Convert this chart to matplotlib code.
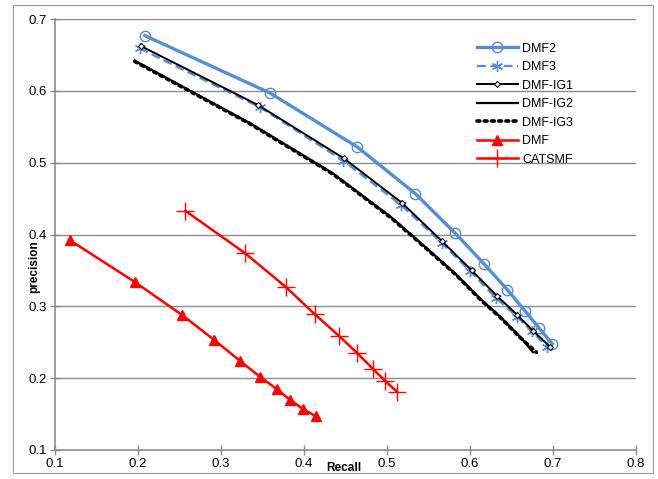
import matplotlib
matplotlib.use("Agg")
import matplotlib.pyplot as plt
from matplotlib.patches import Rectangle

plt.rcParams['font.family'] = ['Liberation Sans Narrow', 'Liberation Sans', 'DejaVu Sans']

# data
dmf2_x = [0.208, 0.359, 0.464, 0.534, 0.582, 0.617, 0.645, 0.666, 0.683, 0.699]
dmf2_y = [0.677, 0.597, 0.522, 0.457, 0.402, 0.359, 0.323, 0.294, 0.270, 0.248]

dmf3_x = [0.202, 0.347, 0.447, 0.517, 0.566, 0.600, 0.631, 0.657, 0.675, 0.693]
dmf3_y = [0.659, 0.577, 0.503, 0.441, 0.388, 0.349, 0.312, 0.285, 0.265, 0.243]

ig1_x = [0.204, 0.345, 0.448, 0.518, 0.566, 0.602, 0.632, 0.657, 0.676, 0.696]
ig1_y = [0.662, 0.580, 0.506, 0.444, 0.391, 0.350, 0.315, 0.288, 0.266, 0.244]

ig2_x = [0.196, 0.335, 0.435, 0.504, 0.534, 0.582, 0.612, 0.636, 0.660, 0.676]
ig2_y = [0.642, 0.555, 0.485, 0.425, 0.395, 0.346, 0.311, 0.286, 0.258, 0.236]

ig3_x = [0.196, 0.335, 0.435, 0.504, 0.534, 0.582, 0.612, 0.636, 0.660, 0.680]
ig3_y = [0.641, 0.554, 0.484, 0.424, 0.394, 0.345, 0.310, 0.285, 0.257, 0.236]

dmf_x = [0.118, 0.196, 0.253, 0.292, 0.323, 0.347, 0.367, 0.383, 0.399, 0.414]
dmf_y = [0.392, 0.334, 0.288, 0.253, 0.224, 0.202, 0.185, 0.170, 0.157, 0.147]

cat_x = [0.257, 0.329, 0.378, 0.413, 0.442, 0.464, 0.483, 0.498, 0.512]
cat_y = [0.433, 0.374, 0.327, 0.289, 0.259, 0.235, 0.213, 0.196, 0.181]

blue = '#558ED5'

fig = plt.figure(figsize=(6.58, 4.79), dpi=100)
fig.patches.append(Rectangle((13 / 658, 6 / 479), 640 / 658, 468 / 479, transform=fig.transFigure,
                             fill=False, edgecolor='#9a9a9a', lw=0.8))
ax = fig.add_axes([55 / 658, 29 / 479, 581 / 658, 431 / 479])

ax.plot(dmf2_x, dmf2_y, color=blue, lw=2.4, marker='o', ms=7.5, mfc='none', mec=blue, mew=1, label='DMF2')
ax.plot(dmf3_x, dmf3_y, color=blue, lw=1.6, ls=(0, (4, 2)), marker=(6, 2, 0), ms=8, mec=blue, mew=1,
        label='DMF3')
ax.plot(ig1_x, ig1_y, color='black', lw=1.4, marker='D', ms=3, mfc='white', mec='black', mew=0.8,
        label='DMF-IG1')
ax.plot(ig2_x, ig2_y, color='black', lw=1.6, label='DMF-IG2')
ax.plot(ig3_x, ig3_y, color='black', lw=2.6, ls=(0, (0.8, 1.2)), dash_capstyle='round', label='DMF-IG3')
ax.plot(dmf_x, dmf_y, color='red', lw=1.8, marker='^', ms=7, label='DMF')
ax.plot(cat_x, cat_y, color='red', lw=1.8, marker='+', ms=13, mew=1, label='CATSMF')

ax.set_xlim(0.1, 0.8)
ax.set_ylim(0.1, 0.7)
ax.set_xticks([0.1, 0.2, 0.3, 0.4, 0.5, 0.6, 0.7, 0.8])
ax.set_yticks([0.1, 0.2, 0.3, 0.4, 0.5, 0.6, 0.7])
ax.set_xticklabels(['0.1', '0.2', '0.3', '0.4', '0.5', '0.6', '0.7', '0.8'])
ax.set_yticklabels(['0.1', '0.2', '0.3', '0.4', '0.5', '0.6', '0.7'])
ax.tick_params(direction='inout', length=7, width=1, color='#8c8c8c', labelsize=9.5, pad=2)
ax.yaxis.grid(True, color='#8c8c8c', lw=1)
ax.set_axisbelow(True)
for s in ['top', 'right']:
    ax.spines[s].set_visible(False)
for s in ['left', 'bottom']:
    ax.spines[s].set_color('#8c8c8c')
    ax.spines[s].set_linewidth(1.2)

ax.set_xlabel('Recall', fontsize=8.5, fontweight='bold')
ax.xaxis.set_label_coords(0.497, -0.028)
ax.set_ylabel('precision', fontsize=8.5, fontweight='bold')
ax.yaxis.set_label_coords(-0.025, 0.425)

ax.legend(loc='upper left', bbox_to_anchor=(468 / 658, 1 - 34 / 479), bbox_transform=fig.transFigure,
          frameon=False, fontsize=9, handlelength=3.3, labelspacing=0.52, handletextpad=0.35,
          borderpad=0.2)

fig.savefig('out.png', dpi=100)
